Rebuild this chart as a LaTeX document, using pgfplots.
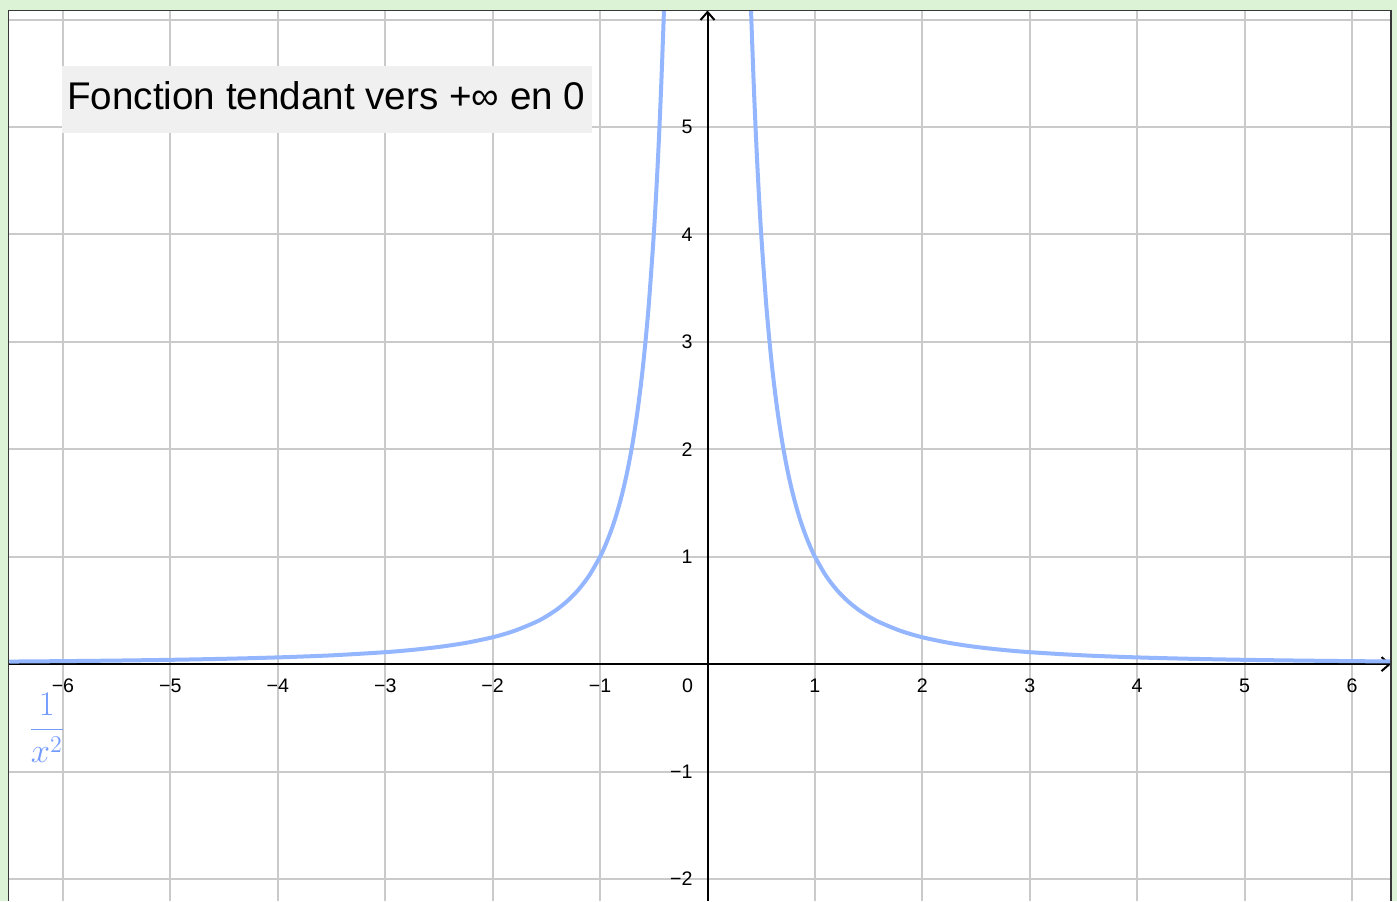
\documentclass[border=0pt]{standalone}
\usepackage[no-math]{fontspec}
\setmainfont{Liberation Sans}
\usepackage{pgfplots}
\pgfplotsset{compat=1.18}
\usetikzlibrary{arrows.meta}
\definecolor{bgg}{RGB}{221,243,214}
\definecolor{gridc}{RGB}{202,202,202}
\definecolor{curvec}{RGB}{148,182,255}
\definecolor{labc}{RGB}{115,155,255}
\definecolor{boxc}{RGB}{240,240,240}
\definecolor{framec}{RGB}{55,55,55}
\begin{document}
\begin{tikzpicture}
\fill[bgg] (0,0) rectangle (698.5pt,450.5pt);
\begin{axis}[
  at={(4.25pt,0pt)}, anchor=south west,
  scale only axis, width=691.25pt, height=445.25pt,
  xmin=-6.507, xmax=6.363, ymin=-2.205, ymax=6.084,
  axis lines=middle,
  axis line style={black, line width=1pt, -{Straight Barb[length=4pt,width=7pt]}},
  xtick={-6,-5,-4,-3,-2,-1,1,2,3,4,5,6},
  xticklabels={−6,−5,−4,−3,−2,−1,1,2,3,4,5,6},
  ytick={-2,-1,1,2,3,4,5,6},
  yticklabels={−2,−1,1,2,3,4,5,{}},
  major tick length=0pt,
  grid=major, grid style={gridc, line width=1pt},
  tick label style={font=\fontsize{9.8}{11}\selectfont},
  xticklabel style={anchor=north, yshift=-4pt},
  yticklabel style={anchor=east, xshift=-4pt},
  axis background/.style={fill=white},
  clip=true,
]
\fill[boxc] (axis cs:-6.009,5.567) rectangle (axis cs:-1.075,4.944);
\node[font=\fontsize{19.3}{23}\selectfont, anchor=base west, inner sep=0pt] at (axis cs:-5.963,5.158) {Fonction tendant vers +∞ en 0};
\addplot[curvec, line width=2pt, smooth] coordinates {
(-6.5,0.02367) (-6,0.02778) (-5.5,0.03306) (-5,0.04) (-4.5,0.04938) (-4,0.0625)
(-3.5,0.08163) (-3,0.11111) (-2.75,0.13223) (-2.5,0.16) (-2.25,0.19753) (-2,0.25)
(-1.8,0.30864) (-1.6,0.39063) (-1.5,0.44444) (-1.4,0.5102) (-1.3,0.59172) (-1.2,0.69444)
(-1.1,0.82645) (-1,1) (-0.95,1.10803) (-0.9,1.23457) (-0.85,1.38408) (-0.8,1.5625)
(-0.75,1.77778) (-0.7,2.04082) (-0.65,2.36686) (-0.6,2.77778) (-0.55,3.30579) (-0.5,4)
(-0.47,4.52694) (-0.45,4.93827) (-0.43,5.40833) (-0.41,5.94884) (-0.4,6.25)
};
\addplot[curvec, line width=2pt, smooth] coordinates {
(0.4,6.25) (0.41,5.94884) (0.43,5.40833) (0.45,4.93827) (0.47,4.52694) (0.5,4)
(0.55,3.30579) (0.6,2.77778) (0.65,2.36686) (0.7,2.04082) (0.75,1.77778) (0.8,1.5625)
(0.85,1.38408) (0.9,1.23457) (0.95,1.10803) (1,1) (1.1,0.82645) (1.2,0.69444)
(1.3,0.59172) (1.4,0.5102) (1.5,0.44444) (1.6,0.39063) (1.8,0.30864) (2,0.25)
(2.25,0.19753) (2.5,0.16) (2.75,0.13223) (3,0.11111) (3.5,0.08163) (4,0.0625)
(4.5,0.04938) (5,0.04) (5.5,0.03306) (6,0.02778) (6.5,0.02367)
};
\node[anchor=north east, inner sep=0pt, xshift=-7pt, yshift=-7pt, font=\fontsize{9.8}{11}\selectfont] at (axis cs:0,0) {0};
\node[text=labc, font=\LARGE] at (axis cs:-6.15,-0.59) {$\displaystyle\frac{1}{x^{2}}$};
\end{axis}
\draw[framec, line width=0.8pt] (4.25pt,0pt) -- (4.25pt,445.25pt) -- (695.5pt,445.25pt) -- (695.5pt,0pt);
\pgfresetboundingbox
\useasboundingbox (0,0) rectangle (698.5pt,450.5pt);
\end{tikzpicture}
\end{document}
